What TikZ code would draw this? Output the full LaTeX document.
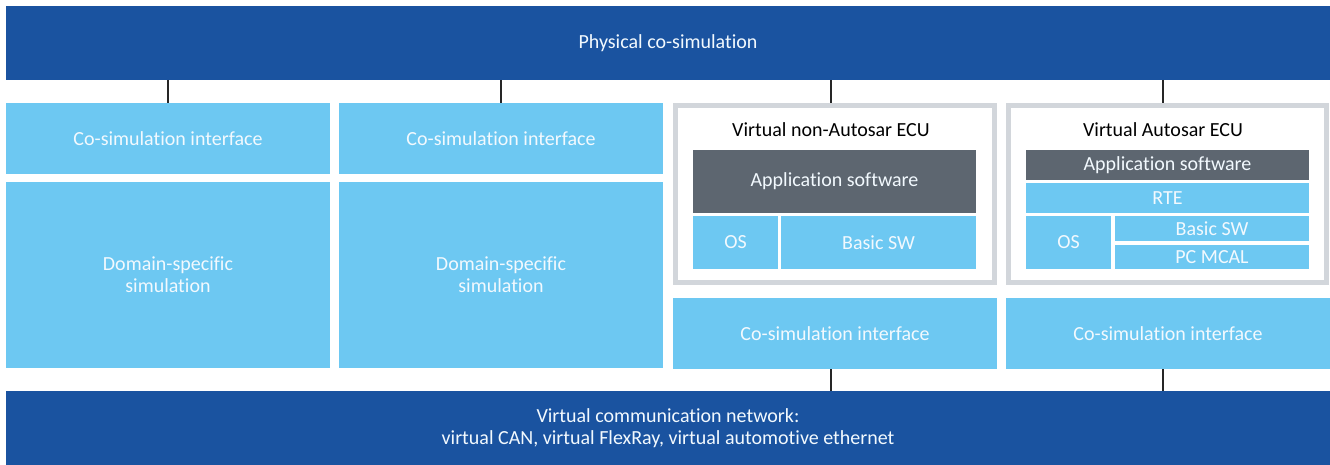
\documentclass[tikz,border=0pt]{standalone}
\usepackage{fontspec}
\setmainfont[Ligatures=NoCommon]{Carlito}
\definecolor{dblue}{HTML}{1A53A0}
\definecolor{lblue}{HTML}{6DC8F2}
\definecolor{dgray}{HTML}{5D6670}
\definecolor{fgray}{HTML}{D2D6DB}
\definecolor{ltext}{HTML}{F2F9FE}
\newcommand\bx[7]{\node[#6, minimum width={#4pt-#2pt}, minimum height={#5pt-#3pt}] (#1) at ({(#2+#4)/2},{(#3+#5)/2}) {#7};}
\begin{document}
\begin{tikzpicture}[x=1pt,y=-1pt,
  base/.style={inner sep=0pt, outer sep=0pt, align=center, font=\fontsize{20}{22}\selectfont},
  bar/.style={base, fill=dblue, text=ltext},
  lbox/.style={base, fill=lblue, text=ltext},
  gbox/.style={base, fill=dgray, text=ltext},
  frame/.style={base, draw=fgray, line width=5pt, fill=white, outer sep=2.5pt},
  ttl/.style={base, text=black},
  conn/.style={line width=1.4pt, draw=black!85}]
\useasboundingbox[fill=white] (0,0) rectangle (1330,465);
% bars
\bx{top}{6}{6}{1330}{80}{bar}{Physical co-simulation}
\bx{net}{6}{391}{1330}{465}{bar}{Virtual communication network:\\virtual CAN, virtual FlexRay, virtual automotive ethernet}
% left columns
\bx{csA}{6}{103}{330}{174}{lbox}{Co-simulation interface}
\bx{dsA}{6}{182}{330}{368}{lbox}{Domain-specific\\simulation}
\bx{csB}{339}{103}{663}{174}{lbox}{Co-simulation interface}
\bx{dsB}{339}{182}{663}{368}{lbox}{Domain-specific\\simulation}
% ECU frames
\bx{ecuA}{675.5}{105.5}{994.5}{282.5}{frame}{}
\bx{ecuB}{1008.5}{105.5}{1326.5}{282.5}{frame}{}
\node[ttl] (tA) at (831,130) {Virtual non-Autosar ECU};
\node[ttl] (tB) at (1163,130) {Virtual Autosar ECU};
% non-Autosar internals
\bx{appA}{693}{150}{976}{213}{gbox}{Application software}
\bx{osA}{693}{216}{778}{269}{lbox}{OS}
\bx{bswA}{781}{216}{976}{269}{lbox}{Basic SW}
% Autosar internals
\bx{appB}{1026}{150}{1309}{180}{gbox}{Application software}
\bx{rte}{1026}{183}{1309}{213}{lbox}{RTE}
\bx{osB}{1026}{216}{1111}{269}{lbox}{OS}
\bx{bswB}{1115}{216}{1309}{241}{lbox}{Basic SW}
\bx{mcal}{1115}{245}{1309}{269}{lbox}{PC MCAL}
% lower co-sim interfaces
\bx{csC}{673}{298}{997}{369}{lbox}{Co-simulation interface}
\bx{csD}{1006}{298}{1330}{369}{lbox}{Co-simulation interface}
% connectors
\draw[conn] (top.south -| csA.north) -- (csA.north);
\draw[conn] (top.south -| csB.north) -- (csB.north);
\draw[conn] (top.south -| 831,0) -- (ecuA.north -| 831,0);
\draw[conn] (top.south -| 1163,0) -- (ecuB.north -| 1163,0);
\draw[conn] (csC.south -| 831,0) -- (net.north -| 831,0);
\draw[conn] (csD.south -| 1163,0) -- (net.north -| 1163,0);
\end{tikzpicture}
\end{document}
